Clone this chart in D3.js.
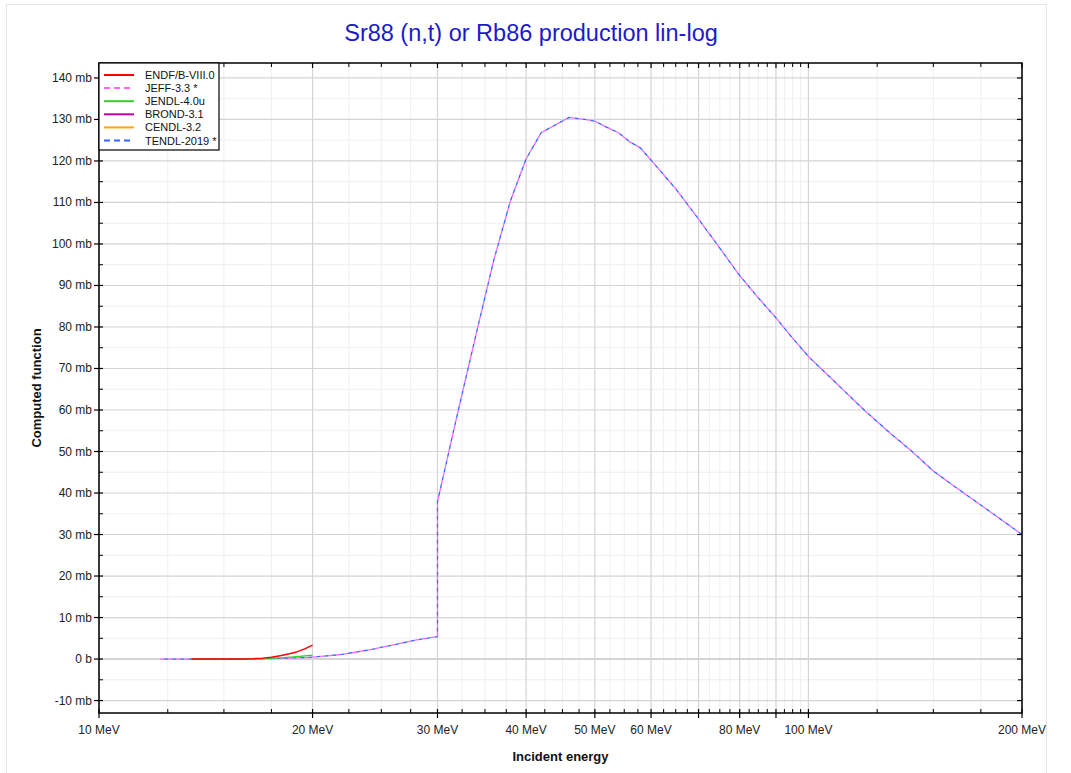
<!DOCTYPE html>
<html>
<head>
<meta charset="utf-8">
<script src="https://cdn.jsdelivr.net/npm/d3@7"></script>
<style>
  html, body { margin: 0; padding: 0; background: #fff; }
  svg { display: block; font-family: "Liberation Sans", Arial, sans-serif; }
</style>
</head>
<body>
<svg id="chart" width="1071" height="773"></svg>
<script>
// ---------- data ----------
const titleText = "Sr88 (n,t) or Rb86 production lin-log";
const xLabelText = "Incident energy";
const yLabelText = "Computed function";

const xTickValues = [10, 20, 30, 40, 50, 60, 70, 80, 90, 100, 200];
const xTickLabels = ["10 MeV", "20 MeV", "30 MeV", "40 MeV", "50 MeV", "60 MeV", "", "80 MeV", "", "100 MeV", "200 MeV"];
const xMinorValues = [12.5, 15, 17.5, 22.5, 25, 27.5, 32.5, 35, 37.5, 42.5, 45, 47.5, 52.5, 55, 57.5,
  62.5, 65, 67.5, 72.5, 75, 77.5, 82.5, 85, 87.5, 92.5, 95, 97.5, 125, 150, 175];
const yTickValues = [-10, 0, 10, 20, 30, 40, 50, 60, 70, 80, 90, 100, 110, 120, 130, 140];
const yTickLabels = ["-10 mb", "0 b", "10 mb", "20 mb", "30 mb", "40 mb", "50 mb", "60 mb", "70 mb",
  "80 mb", "90 mb", "100 mb", "110 mb", "120 mb", "130 mb", "140 mb"];
const yMinorValues = [-5, 5, 15, 25, 35, 45, 55, 65, 75, 85, 95, 105, 115, 125, 135];

const seriesNames = ["ENDF/B-VIII.0", "JEFF-3.3 *", "JENDL-4.0u", "BROND-3.1", "CENDL-3.2", "TENDL-2019 *"];

// energies in MeV, cross sections in mb
const endfE = [13.5, 15, 16, 16.5, 17, 17.5, 18, 18.5, 19, 19.5, 20];
const endfV = [0, 0, 0.03, 0.1, 0.22, 0.42, 0.8, 1.2, 1.72, 2.45, 3.37];

const jeffE = [12.2, 14, 16, 17, 18, 19, 20, 22, 24, 26, 28, 30, 30, 32, 34, 36, 38, 40, 42, 44, 46, 48, 50,
  52, 54, 56, 58, 60, 65, 70, 75, 80, 85, 90, 95, 100, 110, 120, 130, 140, 150, 160, 180, 200];
const jeffV = [0, 0, 0.02, 0.08, 0.18, 0.3, 0.45, 1.1, 2.2, 3.4, 4.6, 5.4, 37.9, 59.0, 78.2, 96.0, 110.3, 120.5,
  126.8, 128.7, 130.5, 130.1, 129.6, 128.1, 126.8, 124.6, 123.1, 120.2, 113.3, 106.0, 99.0, 92.4, 87.0, 82.2,
  77.3, 72.9, 66.1, 59.9, 54.6, 50.0, 45.3, 41.8, 35.6, 30.0];

const jendlE = [13.5, 15, 16, 17, 18, 19, 20];
const jendlV = [0, 0, 0.01, 0.08, 0.28, 0.6, 0.96];

const brondE = [];
const brondV = [];
const cendlE = [];
const cendlV = [];

const tendlE = [12.2, 14, 16, 17, 18, 19, 20, 22, 24, 26, 28, 30, 30, 32, 34, 36, 38, 40, 42, 44, 46, 48, 50,
  52, 54, 56, 58, 60, 65, 70, 75, 80, 85, 90, 95, 100, 110, 120, 130, 140, 150, 160, 180, 200];
const tendlV = [0, 0, 0.02, 0.08, 0.18, 0.3, 0.45, 1.1, 2.2, 3.4, 4.6, 5.4, 37.9, 59.0, 78.2, 96.0, 110.3, 120.5,
  126.8, 128.7, 130.5, 130.1, 129.6, 128.1, 126.8, 124.6, 123.1, 120.2, 113.3, 106.0, 99.0, 92.4, 87.0, 82.2,
  77.3, 72.9, 66.1, 59.9, 54.6, 50.0, 45.3, 41.8, 35.6, 30.0];

// ---------- layout / style ----------
const plot = { left: 99, right: 1022, top: 63, bottom: 713 };
const styles = [
  { color: "#ff0000", dash: null, width: 1.5 },
  { color: "#ff66ff", dash: "4,4", offset: 0, width: 1.3 },
  { color: "#33cc33", dash: null, width: 1.3 },
  { color: "#cc0099", dash: null, width: 1.3 },
  { color: "#ffa500", dash: null, width: 1.3 },
  { color: "#3366ff", dash: "4,4", offset: 4, width: 1.3 }
];
const seriesData = [
  d3.zip(endfE, endfV), d3.zip(jeffE, jeffV), d3.zip(jendlE, jendlV),
  d3.zip(brondE, brondV), d3.zip(cendlE, cendlV), d3.zip(tendlE, tendlV)
];

const svg = d3.select("#chart");
const x = d3.scaleLog().domain([10, 200]).range([plot.left, plot.right]);
const y = d3.scaleLinear().domain([-13, 143.6]).range([plot.bottom, plot.top]);

// outer frame
svg.append("rect").attr("x", 6.5).attr("y", 4.5).attr("width", 1040).attr("height", 780)
  .attr("fill", "none").attr("stroke", "#e6e6e6").attr("stroke-width", 1);

// title
svg.append("text").attr("x", 531).attr("y", 41).attr("text-anchor", "middle")
  .attr("font-size", 23.5).attr("fill", "#1a1acc").text(titleText);

// grid
const grid = svg.append("g");
grid.selectAll(".xminor").data(xMinorValues).join("line")
  .attr("x1", d => x(d)).attr("x2", d => x(d)).attr("y1", plot.top).attr("y2", plot.bottom)
  .attr("stroke", "#efefef").attr("stroke-width", 1);
grid.selectAll(".yminor").data(yMinorValues).join("line")
  .attr("x1", plot.left).attr("x2", plot.right).attr("y1", d => y(d)).attr("y2", d => y(d))
  .attr("stroke", "#efefef").attr("stroke-width", 1);
grid.selectAll(".xmajor").data(xTickValues).join("line")
  .attr("x1", d => x(d)).attr("x2", d => x(d)).attr("y1", plot.top).attr("y2", plot.bottom)
  .attr("stroke", "#d4d4d4").attr("stroke-width", 1.2);
grid.selectAll(".ymajor").data(yTickValues).join("line")
  .attr("x1", plot.left).attr("x2", plot.right).attr("y1", d => y(d)).attr("y2", d => y(d))
  .attr("stroke", "#d4d4d4").attr("stroke-width", d => d === 0 ? 2 : 1.2);

// data lines
const line = d3.line().x(d => x(d[0])).y(d => y(d[1]));
const drawOrder = [5, 1, 4, 3, 2, 0];
const lines = svg.append("g");
drawOrder.forEach(i => {
  if (seriesData[i].length === 0) return;
  const p = lines.append("path").datum(seriesData[i]).attr("d", line)
    .attr("fill", "none").attr("stroke", styles[i].color).attr("stroke-width", styles[i].width)
    .attr("stroke-linejoin", "round");
  if (styles[i].dash) p.attr("stroke-dasharray", styles[i].dash).attr("stroke-dashoffset", styles[i].offset);
});

// axes frame
const axes = svg.append("g").attr("stroke", "#000");
axes.append("rect").attr("x", plot.left).attr("y", plot.top)
  .attr("width", plot.right - plot.left).attr("height", plot.bottom - plot.top)
  .attr("fill", "none").attr("stroke-width", 1.5);

// bottom axis ticks
axes.selectAll(".bt").data(xTickValues).join("line")
  .attr("x1", d => x(d)).attr("x2", d => x(d)).attr("y1", plot.bottom - 4).attr("y2", plot.bottom + 5)
  .attr("stroke-width", 1.2);
axes.selectAll(".bm").data(xMinorValues).join("line")
  .attr("x1", d => x(d)).attr("x2", d => x(d)).attr("y1", plot.bottom - 4).attr("y2", plot.bottom)
  .attr("stroke-width", 1);
// top axis ticks
axes.selectAll(".tt").data(xTickValues).join("line")
  .attr("x1", d => x(d)).attr("x2", d => x(d)).attr("y1", plot.top).attr("y2", plot.top + 5)
  .attr("stroke-width", 1.2);
axes.selectAll(".tm").data(xMinorValues).join("line")
  .attr("x1", d => x(d)).attr("x2", d => x(d)).attr("y1", plot.top).attr("y2", plot.top + 4)
  .attr("stroke-width", 1);
// left axis ticks
axes.selectAll(".lt").data(yTickValues).join("line")
  .attr("x1", plot.left - 5).attr("x2", plot.left + 4).attr("y1", d => y(d)).attr("y2", d => y(d))
  .attr("stroke-width", 1.2);
axes.selectAll(".lm").data(yMinorValues).join("line")
  .attr("x1", plot.left).attr("x2", plot.left + 4).attr("y1", d => y(d)).attr("y2", d => y(d))
  .attr("stroke-width", 1);
// right axis ticks
axes.selectAll(".rt").data(yTickValues).join("line")
  .attr("x1", plot.right - 5).attr("x2", plot.right).attr("y1", d => y(d)).attr("y2", d => y(d))
  .attr("stroke-width", 1.2);
axes.selectAll(".rm").data(yMinorValues).join("line")
  .attr("x1", plot.right - 4).attr("x2", plot.right).attr("y1", d => y(d)).attr("y2", d => y(d))
  .attr("stroke-width", 1);

// tick labels
const labels = svg.append("g").attr("font-size", 12).attr("fill", "#222");
labels.selectAll(".xl").data(xTickValues).join("text")
  .attr("x", d => x(d)).attr("y", plot.bottom + 21).attr("text-anchor", "middle")
  .text((d, i) => xTickLabels[i]);
labels.selectAll(".yl").data(yTickValues).join("text")
  .attr("x", plot.left - 7).attr("y", d => y(d) + 4).attr("text-anchor", "end")
  .text((d, i) => yTickLabels[i]);

// axis titles
svg.append("text").attr("x", (plot.left + plot.right) / 2).attr("y", 761).attr("text-anchor", "middle")
  .attr("font-size", 13).attr("font-weight", "bold").attr("fill", "#111").text(xLabelText);
svg.append("text").attr("transform", `translate(41, ${(plot.top + plot.bottom) / 2}) rotate(-90)`)
  .attr("text-anchor", "middle").attr("font-size", 13).attr("font-weight", "bold").attr("fill", "#111")
  .text(yLabelText);

// legend
const legend = svg.append("g");
legend.append("rect").attr("x", plot.left).attr("y", plot.top).attr("width", 120).attr("height", 87)
  .attr("fill", "#fff").attr("stroke", "#000").attr("stroke-width", 1.2);
seriesNames.forEach((name, i) => {
  const ly = 75 + i * 13.1;
  const l = legend.append("line").attr("x1", 104).attr("x2", 134).attr("y1", ly).attr("y2", ly)
    .attr("stroke", styles[i].color).attr("stroke-width", 2);
  if (styles[i].dash) l.attr("stroke-dasharray", "6,4");
  legend.append("text").attr("x", 145).attr("y", ly + 4).attr("font-size", 11).attr("fill", "#111").text(name);
});
</script>
</body>
</html>
